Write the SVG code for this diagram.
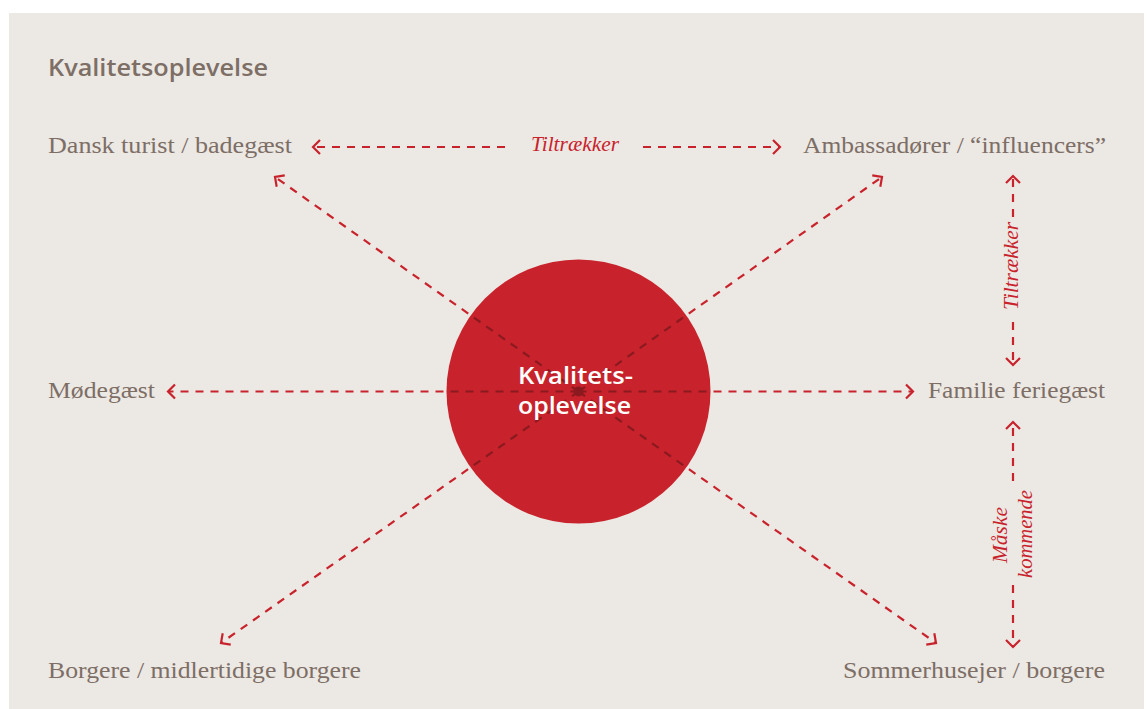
<svg xmlns="http://www.w3.org/2000/svg" width="1147" height="709" viewBox="0 0 1147 709">
<defs>
<style>
.bg{fill:#ffffff}
.panel{fill:#ECE8E3}
.lbl{font-family:"Liberation Serif",serif;font-size:23px;fill:#7D6E66}
.title{font-family:"Open Sans","Liberation Sans",sans-serif;font-size:24px;font-weight:600;fill:#7D6E66}
.ctr{font-family:"Open Sans","Liberation Sans",sans-serif;font-size:24px;font-weight:600;fill:#ffffff}
.it{font-family:"Liberation Serif",serif;font-style:italic;font-size:21px;fill:#C8232C}
.ln{stroke:#C8232C;stroke-width:2.2;stroke-dasharray:8 7;fill:none}
.dk{stroke:#8A1A1F;stroke-width:2.2;stroke-dasharray:8 7;fill:none}
</style>
<marker id="ah" viewBox="-10 -10 20 20" refX="0" refY="0" markerWidth="20" markerHeight="20" markerUnits="userSpaceOnUse" orient="auto-start-reverse">
<path d="M-7,-7 L0,0 L-7,7" fill="none" stroke="#C8232C" stroke-width="2.2"/>
</marker>
<clipPath id="cc"><circle cx="578.5" cy="391.5" r="132"/></clipPath>
</defs>
<rect class="bg" x="0" y="0" width="1147" height="709"/>
<rect class="panel" x="9" y="13" width="1135" height="696"/>
<text class="title" x="48" y="76" textLength="220" lengthAdjust="spacingAndGlyphs">Kvalitetsoplevelse</text>

<g id="center">
<circle cx="578.5" cy="391.5" r="132" fill="#C8232C"/>
</g>

<g id="connectors">
<path class="ln" d="M578.5,391.5 L275,177" marker-end="url(#ah)"/>
<path class="ln" d="M578.5,391.5 L882,177" marker-end="url(#ah)"/>
<path class="ln" d="M578.5,391.5 L221,643" marker-end="url(#ah)"/>
<path class="ln" d="M578.5,391.5 L936,643" marker-end="url(#ah)"/>
<path class="ln" d="M578.5,391.5 L168,391.5" marker-end="url(#ah)"/>
<path class="ln" d="M578.5,391.5 L913,391.5" marker-end="url(#ah)"/>
<g clip-path="url(#cc)">
<path class="dk" d="M578.5,391.5 L275,177"/>
<path class="dk" d="M578.5,391.5 L882,177"/>
<path class="dk" d="M578.5,391.5 L221,643"/>
<path class="dk" d="M578.5,391.5 L936,643"/>
<path class="dk" d="M578.5,391.5 L168,391.5"/>
<path class="dk" d="M578.5,391.5 L913,391.5"/>
</g>
<circle cx="578.5" cy="391.5" r="5" fill="#8A1A1F"/>
<path class="ln" d="M505,147 L313,147" marker-end="url(#ah)"/>
<path class="ln" d="M643,147 L780,147" marker-end="url(#ah)"/>
<text class="it" x="531" y="151" textLength="88" lengthAdjust="spacingAndGlyphs">Tiltrækker</text>
<path class="ln" d="M1013,217 L1013,176" marker-end="url(#ah)"/>
<path class="ln" d="M1013,322 L1013,365" marker-end="url(#ah)"/>
<text class="it" transform="translate(1018,310) rotate(-90)" textLength="88" lengthAdjust="spacingAndGlyphs">Tiltrækker</text>
<path class="ln" d="M1013,481 L1013,422" marker-end="url(#ah)"/>
<path class="ln" d="M1013,585 L1013,647" marker-end="url(#ah)"/>
<text class="it" transform="translate(1007,563) rotate(-90)" textLength="56" lengthAdjust="spacingAndGlyphs">Måske</text>
<text class="it" transform="translate(1032,578) rotate(-90)" textLength="88" lengthAdjust="spacingAndGlyphs">kommende</text>
</g>

<g id="n-center-text">
<text class="ctr" x="518" y="384" textLength="115" lengthAdjust="spacingAndGlyphs">Kvalitets-</text>
<text class="ctr" x="518" y="414" textLength="113" lengthAdjust="spacingAndGlyphs">oplevelse</text>
</g>
<g id="n-dansk"><text class="lbl" x="48" y="153" textLength="244" lengthAdjust="spacingAndGlyphs">Dansk turist / badegæst</text></g>
<g id="n-ambassador"><text class="lbl" x="803" y="153" textLength="303" lengthAdjust="spacingAndGlyphs">Ambassadører / “influencers”</text></g>
<g id="n-mode"><text class="lbl" x="48" y="398" textLength="107" lengthAdjust="spacingAndGlyphs">Mødegæst</text></g>
<g id="n-familie"><text class="lbl" x="928" y="398" textLength="177" lengthAdjust="spacingAndGlyphs">Familie feriegæst</text></g>
<g id="n-borgere"><text class="lbl" x="48" y="678" textLength="313" lengthAdjust="spacingAndGlyphs">Borgere / midlertidige borgere</text></g>
<g id="n-sommerhus"><text class="lbl" x="843" y="678" textLength="262" lengthAdjust="spacingAndGlyphs">Sommerhusejer / borgere</text></g>
</svg>
